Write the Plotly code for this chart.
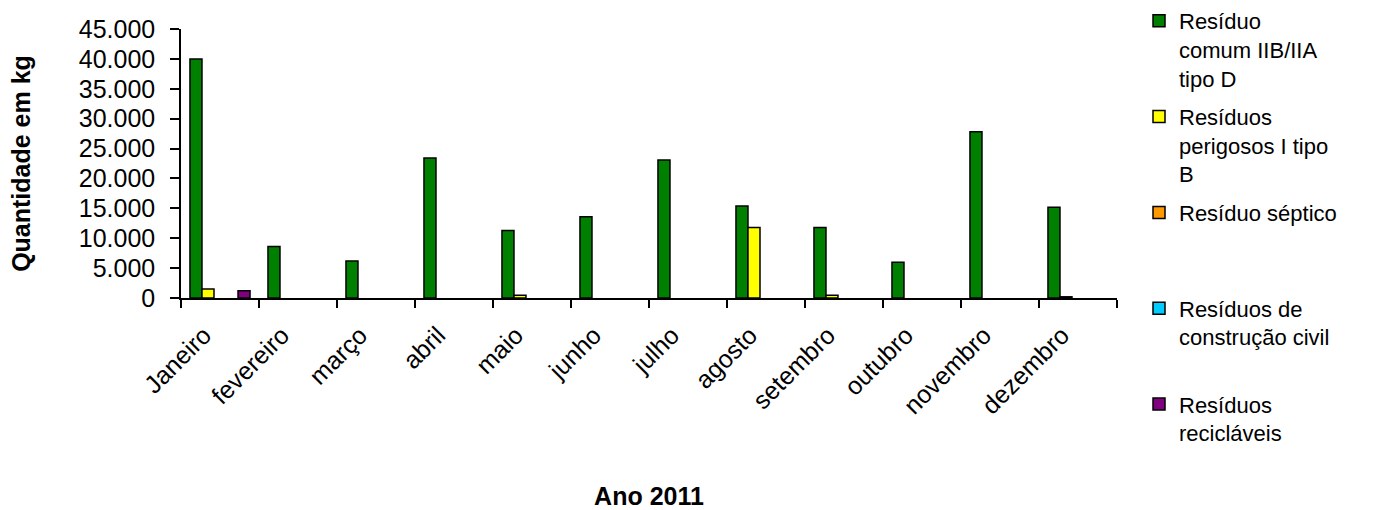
import plotly.graph_objects as go

# Monthly waste quantities (kg), 2011
months = ["Janeiro", "fevereiro", "março", "abril", "maio", "junho",
          "julho", "agosto", "setembro", "outubro", "novembro", "dezembro"]

comum_iib_iia = [40000, 8600, 6200, 23400, 11300, 13600,
                 23100, 15400, 11800, 6000, 27800, 15200]
perigosos_i = [1500, 0, 0, 0, 450, 0, 0, 11800, 450, 0, 0, 200]
septico = [0] * 12
construcao_civil = [0] * 12
reciclaveis = [1200, 0, 0, 0, 0, 0, 0, 0, 0, 0, 0, 0]

series = [
    ("Resíduo<br>comum IIB/IIA<br>tipo D", comum_iib_iia, "#008000"),
    ("Resíduos<br>perigosos I tipo<br>B", perigosos_i, "#FFFF00"),
    ("Resíduo séptico<br>\u00a0<br>\u00a0", septico, "#FF9900"),
    ("Resíduos de<br>construção civil<br>\u00a0", construcao_civil, "#00CCFF"),
    ("Resíduos<br>recicláveis", reciclaveis, "#800080"),
]

FONT = "Liberation Sans, Arial, sans-serif"

fig = go.Figure()
for i, (name, values, color) in enumerate(series):
    # empty months get no bar at all (no outline sitting on the axis)
    fig.add_trace(go.Bar(
        x=months, y=[v if v else None for v in values],
        name=name, legendgroup=f"g{i}",
        marker=dict(color=color, line=dict(color="#000000", width=1.5)),
    ))

fig.update_layout(
    width=1378, height=510,
    margin=dict(l=181, r=261, t=29, b=212, autoexpand=False),
    paper_bgcolor="white", plot_bgcolor="white",
    separators=",.",
    barmode="group", bargap=0.23, bargroupgap=0,
    font=dict(family=FONT, color="#000000"),
    showlegend=True,
    legend=dict(
        xref="container", yref="container",
        x=1139 / 1378, xanchor="left",
        y=1.0, yanchor="top",
        valign="top", tracegroupgap=7, maxheight=510,
        font=dict(size=22, family=FONT),
        bgcolor="rgba(0,0,0,0)",
    ),
)

fig.update_xaxes(
    type="category", tickson="boundaries", automargin=False,
    showline=True, linecolor="#000000", linewidth=1.5,
    ticks="outside", ticklen=8, tickwidth=1.5, tickcolor="#000000",
    tickangle=-45, tickfont=dict(size=25, family=FONT),
    ticklabelshift=-16, ticklabelstandoff=11,
    showgrid=False, zeroline=False,
    title=dict(text="<b>Ano 2011</b>", font=dict(size=25, family=FONT), standoff=72),
)

fig.update_yaxes(
    range=[0, 45000], dtick=5000, tickformat=",d", automargin=False,
    showline=True, linecolor="#000000", linewidth=1.5,
    ticks="outside", ticklen=9, tickwidth=1.5, tickcolor="#000000",
    ticklabelstandoff=10,
    tickfont=dict(size=25, family=FONT),
    showgrid=False, zeroline=False,
    title=dict(text="<b>Quantidade em kg</b>", font=dict(size=25, family=FONT), standoff=41),
)

fig.write_html("out.html")
